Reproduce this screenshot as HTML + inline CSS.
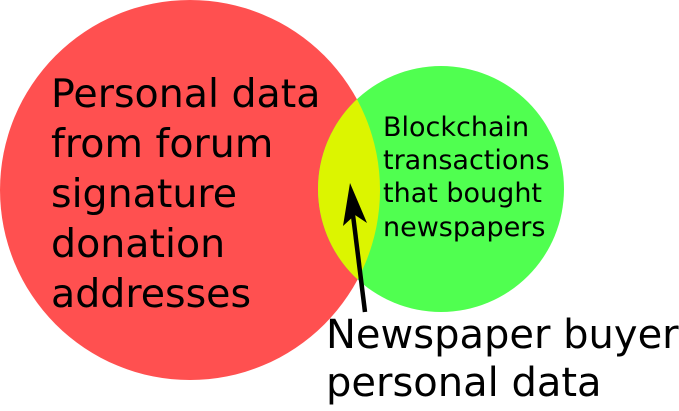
<!DOCTYPE html>
<html><head><style>html,body{margin:0;padding:0;background:#fff;overflow:hidden}</style></head>
<body>
<svg width="679" height="406" viewBox="0 0 679 406" xmlns="http://www.w3.org/2000/svg" font-family="'DejaVu Sans', 'Liberation Sans', sans-serif">
<defs><clipPath id="c"><circle cx="190" cy="190" r="190"/></clipPath></defs>
<circle cx="190" cy="190" r="190" fill="#ff5050"/>
<circle cx="441" cy="189" r="123" fill="#50ff50"/>
<circle cx="441" cy="189" r="123" fill="#dcf500" clip-path="url(#c)"/>
<g font-size="39.5" fill="#000">
<text x="51" y="107">Personal data</text>
<text x="51" y="157">from forum</text>
<text x="51" y="207">signature</text>
<text x="51" y="257">donation</text>
<text x="51" y="307">addresses</text>
</g>
<g font-size="27" fill="#000">
<text x="383" y="136">Blockchain</text>
<text x="383" y="169">transactions</text>
<text x="383" y="202">that bought</text>
<text x="383" y="236">newspapers</text>
</g>
<g font-size="40" fill="#000">
<text x="326" y="348">Newspaper buyer</text>
<text x="326" y="396">personal data</text>
</g>
<line x1="365" y1="312" x2="353" y2="215" stroke="#000" stroke-width="4.5"/>
<polygon points="350,183 343,226 355,215 367,223" fill="#000"/>
</svg>
</body></html>
